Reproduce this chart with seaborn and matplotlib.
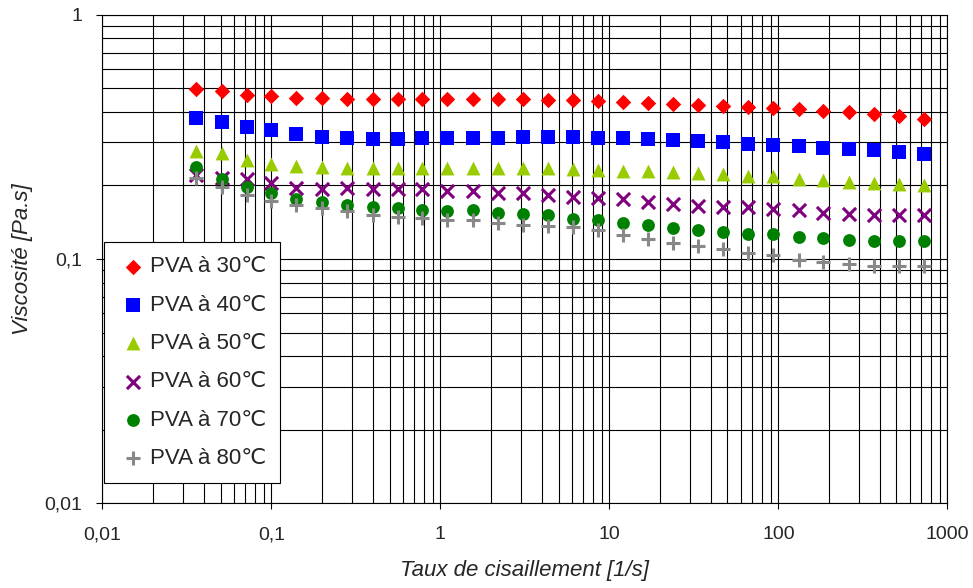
import matplotlib
matplotlib.use("Agg")
import matplotlib.pyplot as plt
import matplotlib.ticker as mticker
import seaborn as sns

sns.set_style("white")
plt.rcParams["font.family"] = ["Liberation Sans", "DejaVu Sans"]

# shear rate [1/s]
shear_rate = [0.036, 0.051, 0.072, 0.10, 0.14, 0.20, 0.28, 0.40, 0.56, 0.78,
              1.1, 1.55, 2.19, 3.08, 4.33, 6.09, 8.57, 12.0, 17.0, 23.9,
              33.6, 47.2, 66.5, 93.5, 132, 185, 261, 367, 516, 726]

# viscosity [Pa.s]
visc_30 = [0.497, 0.488, 0.471, 0.463, 0.457, 0.454, 0.453, 0.453, 0.450, 0.451,
           0.450, 0.451, 0.450, 0.450, 0.448, 0.448, 0.444, 0.439, 0.436, 0.432,
           0.428, 0.424, 0.419, 0.415, 0.411, 0.405, 0.400, 0.394, 0.384, 0.375]
visc_40 = [0.379, 0.365, 0.346, 0.336, 0.326, 0.317, 0.313, 0.311, 0.310, 0.313,
           0.313, 0.314, 0.314, 0.315, 0.315, 0.316, 0.314, 0.312, 0.310, 0.307,
           0.305, 0.300, 0.297, 0.293, 0.290, 0.286, 0.283, 0.279, 0.275, 0.269]
visc_50 = [0.278, 0.271, 0.255, 0.245, 0.240, 0.237, 0.236, 0.236, 0.236, 0.236,
           0.236, 0.236, 0.236, 0.236, 0.235, 0.233, 0.232, 0.230, 0.229, 0.227,
           0.224, 0.223, 0.219, 0.218, 0.213, 0.211, 0.206, 0.205, 0.203, 0.200]
visc_60 = [0.220, 0.215, 0.212, 0.204, 0.195, 0.193, 0.195, 0.194, 0.194, 0.193,
           0.189, 0.189, 0.187, 0.186, 0.183, 0.180, 0.178, 0.176, 0.171, 0.168,
           0.165, 0.164, 0.163, 0.160, 0.158, 0.155, 0.153, 0.151, 0.151, 0.151]
visc_70 = [0.238, 0.213, 0.197, 0.186, 0.176, 0.171, 0.166, 0.163, 0.161, 0.159,
           0.157, 0.158, 0.155, 0.153, 0.151, 0.146, 0.144, 0.141, 0.138, 0.134,
           0.132, 0.129, 0.127, 0.126, 0.123, 0.122, 0.120, 0.119, 0.118, 0.119]
visc_80 = [0.214, 0.198, 0.183, 0.173, 0.166, 0.161, 0.157, 0.151, 0.149, 0.147,
           0.145, 0.144, 0.141, 0.138, 0.137, 0.135, 0.131, 0.125, 0.121, 0.116,
           0.113, 0.110, 0.106, 0.104, 0.099, 0.097, 0.095, 0.094, 0.0936, 0.0936]

labels = ["PVA à 30℃", "PVA à 40℃", "PVA à 50℃", "PVA à 60℃", "PVA à 70℃", "PVA à 80℃"]
series = [visc_30, visc_40, visc_50, visc_60, visc_70, visc_80]
colors = ["#FF0000", "#0000FF", "#99CC00", "#800080", "#008000", "#888888"]
markers = ["D", "s", "^", "x", "o", "+"]
sizes = [62, 90, 100, 90, 85, 110]

fig = plt.figure(figsize=(9.73, 5.88), dpi=100)
ax = fig.add_axes([0.1053, 0.144, 0.8683, 0.831])

for y, lab, c, m, s in zip(series, labels, colors, markers, sizes):
    if m in ("x", "+"):
        sns.scatterplot(x=shear_rate, y=y, ax=ax, marker=m, color=c, s=s,
                        linewidth=2.2, label=lab, zorder=3)
    else:
        sns.scatterplot(x=shear_rate, y=y, ax=ax, marker=m, color=c, s=s,
                        linewidth=0, label=lab, zorder=3)

ax.set_xscale("log")
ax.set_yscale("log")
ax.set_xlim(0.01, 1000)
ax.set_ylim(0.01, 1)

def comma_fmt(v, pos):
    return ("%g" % v).replace(".", ",")

ax.xaxis.set_major_locator(mticker.LogLocator(base=10, numticks=10))
ax.yaxis.set_major_locator(mticker.LogLocator(base=10, numticks=10))
ax.xaxis.set_minor_locator(mticker.LogLocator(base=10, subs=range(2, 10), numticks=20))
ax.yaxis.set_minor_locator(mticker.LogLocator(base=10, subs=range(2, 10), numticks=20))
ax.xaxis.set_major_formatter(mticker.FuncFormatter(comma_fmt))
ax.yaxis.set_major_formatter(mticker.FuncFormatter(comma_fmt))
ax.xaxis.set_minor_formatter(mticker.NullFormatter())
ax.yaxis.set_minor_formatter(mticker.NullFormatter())

ax.grid(True, which="both", color="black", linewidth=0.8)
ax.set_axisbelow(True)
for sp in ax.spines.values():
    sp.set_color("black")
    sp.set_linewidth(0.8)

ax.tick_params(which="major", direction="out", length=4.5, width=0.8,
               color="black", labelsize=14, bottom=True, left=True)
ax.tick_params(axis="x", which="major", pad=12)
ax.tick_params(axis="y", which="major", pad=10)
ax.tick_params(which="minor", length=0)

ax.set_xlabel("Taux de cisaillement [1/s]", fontsize=16, style="italic", labelpad=12)
ax.set_ylabel("Viscosité [Pa.s]", fontsize=16, style="italic", labelpad=8)

leg = ax.legend(loc="upper left", bbox_to_anchor=(0.002, 0.535), fontsize=16,
                frameon=True, fancybox=False, edgecolor="black", framealpha=1,
                borderaxespad=0, labelspacing=0.78, handletextpad=0.1,
                handlelength=1.3, borderpad=0.65)
leg.get_frame().set_linewidth(0.8)

fig.savefig("out.png", dpi=100)
